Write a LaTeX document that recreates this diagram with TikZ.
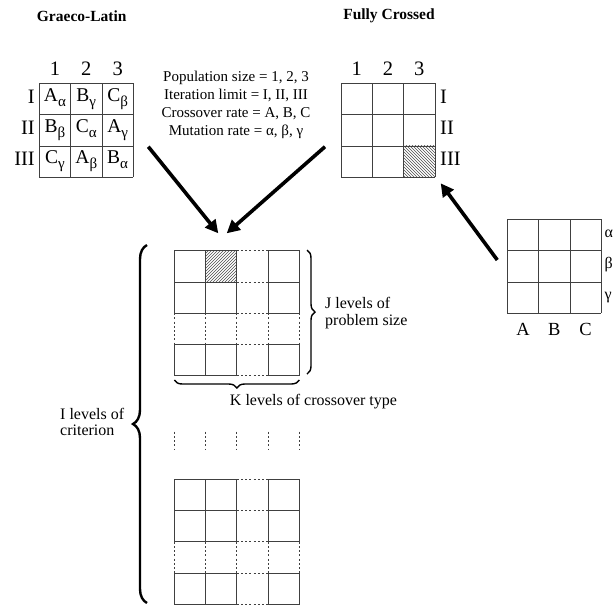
\documentclass[tikz,border=0pt]{standalone}
\usepackage{fontspec}
\setmainfont{Liberation Serif}
\usetikzlibrary{patterns,decorations.pathreplacing,arrows.meta}
\newcommand\sbs[1]{\raisebox{-5pt}{\fontsize{15}{15}\selectfont #1}}
\begin{document}
\begin{tikzpicture}[x=1pt,y=-1pt,
  gridline/.style={draw=black!75,line width=0.8pt},
  dotline/.style={draw=black!75,line width=0.8pt,dash pattern=on 2pt off 2.2pt},
  bigarrow/.style={line width=3.6pt,-{Triangle[length=13pt,width=13pt]}},
  titletext/.style={font=\fontsize{15.5}{18}\selectfont\bfseries,inner sep=0pt},
  bodytext/.style={font=\fontsize{16}{16.8}\selectfont,inner sep=0pt,align=left},
  paramtext/.style={font=\fontsize{15}{17.8}\selectfont,inner sep=0pt,align=center},
  biglab/.style={font=\fontsize{20.5}{22}\selectfont,inner sep=0pt},
  midlab/.style={font=\fontsize{16}{18}\selectfont,inner sep=0pt},
  abclab/.style={font=\fontsize{18.5}{20}\selectfont,inner sep=0pt},
  celltext/.style={font=\fontsize{19.5}{22}\selectfont,inner sep=0pt},
  bracethick/.style={line width=2.4pt,decorate,decoration={brace,amplitude=14pt}},
  bracethin/.style={line width=1.4pt,decorate,decoration={brace,amplitude=8pt}}
]
\useasboundingbox (0,0) rectangle (615,606);

% titles
\node[titletext] (tgl) at (81.7,16) {Graeco-Latin};
\node[titletext] (tfc) at (389,16) {Fully Crossed};

% Graeco-Latin grid
\foreach \i in {0,...,3} {
  \draw[gridline] ({39.3+\i*31.33},83.3) -- ({39.3+\i*31.33},177.3);
  \draw[gridline] (39.3,{83.3+\i*31.33}) -- (133.3,{83.3+\i*31.33});
}
\foreach \t [count=\c from 0] in {1,2,3}
  \node[biglab,anchor=mid] (gc\t) at ({39.3+(\c+0.5)*31.33},73) {\t};
\foreach \t [count=\r from 0] in {I,II,III}
  \node[biglab,anchor=mid east] (gr\r) at (35,{83.3+(\r+0.5)*31.33+2}) {\t};
\foreach \txt [count=\k from 0] in {A\sbs{α},B\sbs{γ},C\sbs{β},B\sbs{β},C\sbs{α},A\sbs{γ},C\sbs{γ},A\sbs{β},B\sbs{α}} {
  \pgfmathtruncatemacro\rr{int(\k/3)}
  \pgfmathtruncatemacro\cc{mod(\k,3)}
  \node[celltext,anchor=mid] (gl\k) at ({39.3+(\cc+0.5)*31.33},{83.3+(\rr+0.5)*31.33}) {\txt};
}

% parameter text
\node[paramtext] (params) at (236,105) {Population size = 1, 2, 3\\Iteration limit = I, II, III\\Crossover rate = A, B, C\\Mutation rate = α, β, γ};

% Fully crossed grid
\fill[pattern=north west lines,pattern color=black!70] ({341+2*31.33},{83.3+2*31.33}) rectangle ++(31.33,31.33);
\foreach \i in {0,...,3} {
  \draw[gridline] ({341+\i*31.33},83.3) -- ({341+\i*31.33},177.3);
  \draw[gridline] (341,{83.3+\i*31.33}) -- (435,{83.3+\i*31.33});
}
\foreach \t [count=\c from 0] in {1,2,3}
  \node[biglab,anchor=mid] (fc\t) at ({341+(\c+0.5)*31.33},73) {\t};
\foreach \t [count=\r from 0] in {I,II,III}
  \node[biglab,anchor=mid west] (fr\r) at (440,{83.3+(\r+0.5)*31.33+2}) {\t};

% right grid
\foreach \i in {0,...,3} {
  \draw[gridline] ({507.3+\i*31.33},219.3) -- ({507.3+\i*31.33},313.3);
  \draw[gridline] (507.3,{219.3+\i*31.33}) -- (601.3,{219.3+\i*31.33});
}
\foreach \t [count=\r from 0] in {α,β,γ}
  \node[midlab,anchor=mid west] (rg\r) at (604.5,{219.3+(\r+0.5)*31.33}) {\t};
\foreach \t [count=\c from 0] in {A,B,C}
  \node[abclab,anchor=mid] (rc\t) at ({507.3+(\c+0.5)*31.33},333) {\t};

% middle grids
\fill[pattern=north east lines,pattern color=black!70] (205.55,250.7) rectangle ++(31.25,31.25);
\foreach \yo in {250.7,479.3} {
  \begin{scope}[shift={(0,\yo)}]
    \foreach \r in {0,1,3}
      \foreach \c in {0,1,3}
        \draw[gridline] ({174.3+\c*31.25},{\r*31.25}) rectangle ++(31.25,31.25);
    \foreach \k in {0,...,4} {
      \draw[dotline] ({174.3+2*31.25},{\k*31.25}) -- ++(31.25,0);
      \draw[dotline] ({174.3+\k*31.25},{2*31.25}) -- ++(0,31.25);
    }
  \end{scope}
}
\foreach \k in {0,...,4}
  \draw[dotline] ({174.3+\k*31.25},431.7) -- ++(0,18.5);

% braces
\draw[bracethin] (307,250) -- (307,374);
\draw[bracethin] (299.3,380) -- (174.3,380);
\draw[bracethick] (147,603) -- (147,245);

\node[bodytext,anchor=west] (jlev) at (325,313) {J levels of\\problem size};
\node[bodytext,anchor=mid] (klev) at (313.5,403) {K levels of crossover type};
\node[bodytext,anchor=west] (ilev) at (60,422) {I levels of\\criterion};

% arrows
\coordinate (a1s) at (148.3,146.7);
\coordinate (a1e) at (218.3,233.3);
\coordinate (a2s) at (325,146.7);
\coordinate (a2e) at (226.7,233.3);
\coordinate (a3s) at (497.3,260);
\coordinate (a3e) at (440.7,183.3);
\draw[bigarrow] (a1s) -- (a1e);
\draw[bigarrow] (a2s) -- (a2e);
\draw[bigarrow] (a3s) -- (a3e);
\end{tikzpicture}
\end{document}
